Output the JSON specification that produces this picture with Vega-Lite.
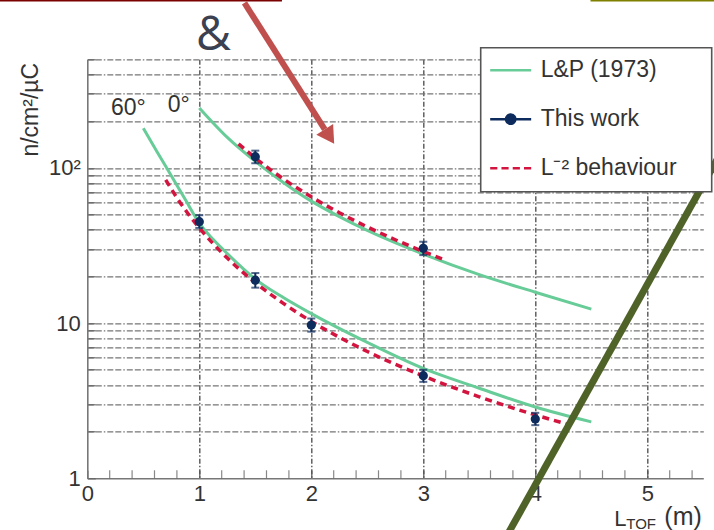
{
  "$schema": "https://vega.github.io/schema/vega-lite/v6.json",
  "width": 616,
  "height": 419,
  "autosize": {"type": "none"},
  "padding": {"left": 87.3, "top": 59.3, "right": 10.7, "bottom": 51.7},
  "background": "white",
  "config": {"view": {"stroke": null}, "font": "Liberation Sans"},
  "datasets": {
    "lp": [
      {"x": 1.0, "y": 243, "angle": "0", "series": "L&P (1973)"},
      {"x": 1.25, "y": 157, "angle": "0", "series": "L&P (1973)"},
      {"x": 1.5, "y": 110, "angle": "0", "series": "L&P (1973)"},
      {"x": 1.75, "y": 80.5, "angle": "0", "series": "L&P (1973)"},
      {"x": 2.0, "y": 61, "angle": "0", "series": "L&P (1973)"},
      {"x": 2.25, "y": 48.5, "angle": "0", "series": "L&P (1973)"},
      {"x": 2.5, "y": 39.5, "angle": "0", "series": "L&P (1973)"},
      {"x": 3.0, "y": 27.8, "angle": "0", "series": "L&P (1973)"},
      {"x": 3.5, "y": 20.5, "angle": "0", "series": "L&P (1973)"},
      {"x": 4.0, "y": 15.8, "angle": "0", "series": "L&P (1973)"},
      {"x": 4.5, "y": 12.3, "angle": "0", "series": "L&P (1973)"},
      {"x": 0.5, "y": 180, "angle": "60", "series": "L&P (1973)"},
      {"x": 0.625, "y": 126, "angle": "60", "series": "L&P (1973)"},
      {"x": 0.75, "y": 89, "angle": "60", "series": "L&P (1973)"},
      {"x": 0.875, "y": 62.5, "angle": "60", "series": "L&P (1973)"},
      {"x": 1.0, "y": 44, "angle": "60", "series": "L&P (1973)"},
      {"x": 1.125, "y": 34.5, "angle": "60", "series": "L&P (1973)"},
      {"x": 1.25, "y": 28, "angle": "60", "series": "L&P (1973)"},
      {"x": 1.5, "y": 19.2, "angle": "60", "series": "L&P (1973)"},
      {"x": 1.75, "y": 14.6, "angle": "60", "series": "L&P (1973)"},
      {"x": 2.0, "y": 11.5, "angle": "60", "series": "L&P (1973)"},
      {"x": 2.5, "y": 7.5, "angle": "60", "series": "L&P (1973)"},
      {"x": 3.0, "y": 5.1, "angle": "60", "series": "L&P (1973)"},
      {"x": 3.5, "y": 3.8, "angle": "60", "series": "L&P (1973)"},
      {"x": 4.0, "y": 2.88, "angle": "60", "series": "L&P (1973)"},
      {"x": 4.5, "y": 2.31, "angle": "60", "series": "L&P (1973)"}
    ],
    "l2": [
      {"x": 1.35, "y": 142.7, "angle": "0", "series": "L⁻² behaviour"},
      {"x": 1.5, "y": 115.6, "angle": "0", "series": "L⁻² behaviour"},
      {"x": 1.75, "y": 84.9, "angle": "0", "series": "L⁻² behaviour"},
      {"x": 2.0, "y": 65.0, "angle": "0", "series": "L⁻² behaviour"},
      {"x": 2.25, "y": 51.4, "angle": "0", "series": "L⁻² behaviour"},
      {"x": 2.5, "y": 41.6, "angle": "0", "series": "L⁻² behaviour"},
      {"x": 2.75, "y": 34.4, "angle": "0", "series": "L⁻² behaviour"},
      {"x": 3.0, "y": 28.9, "angle": "0", "series": "L⁻² behaviour"},
      {"x": 3.2, "y": 25.4, "angle": "0", "series": "L⁻² behaviour"},
      {"x": 0.7, "y": 83.7, "angle": "60", "series": "L⁻² behaviour"},
      {"x": 0.8, "y": 64.1, "angle": "60", "series": "L⁻² behaviour"},
      {"x": 0.9, "y": 50.6, "angle": "60", "series": "L⁻² behaviour"},
      {"x": 1.0, "y": 41.0, "angle": "60", "series": "L⁻² behaviour"},
      {"x": 1.25, "y": 26.2, "angle": "60", "series": "L⁻² behaviour"},
      {"x": 1.5, "y": 18.2, "angle": "60", "series": "L⁻² behaviour"},
      {"x": 1.75, "y": 13.4, "angle": "60", "series": "L⁻² behaviour"},
      {"x": 2.0, "y": 10.25, "angle": "60", "series": "L⁻² behaviour"},
      {"x": 2.5, "y": 6.56, "angle": "60", "series": "L⁻² behaviour"},
      {"x": 3.0, "y": 4.56, "angle": "60", "series": "L⁻² behaviour"},
      {"x": 3.5, "y": 3.35, "angle": "60", "series": "L⁻² behaviour"},
      {"x": 4.0, "y": 2.56, "angle": "60", "series": "L⁻² behaviour"},
      {"x": 4.3, "y": 2.22, "angle": "60", "series": "L⁻² behaviour"}
    ],
    "tw": [
      {"x": 1.5, "y": 118, "lo": 107, "hi": 129, "angle": "0", "series": "This work"},
      {"x": 3.0, "y": 30.3, "lo": 27.4, "hi": 33.4, "angle": "0", "series": "This work"},
      {"x": 1.0, "y": 45, "lo": 41, "hi": 49.5, "angle": "60", "series": "This work"},
      {"x": 1.5, "y": 18.9, "lo": 16.9, "hi": 21, "angle": "60", "series": "This work"},
      {"x": 2.0, "y": 9.7, "lo": 8.8, "hi": 10.7, "angle": "60", "series": "This work"},
      {"x": 3.0, "y": 4.58, "lo": 4.18, "hi": 5.0, "angle": "60", "series": "This work"},
      {"x": 4.0, "y": 2.41, "lo": 2.2, "hi": 2.64, "angle": "60", "series": "This work"}
    ],
    "ann": [
      {"x": 0.367, "y": 219, "t": "60°"},
      {"x": 0.817, "y": 229, "t": "0°"}
    ],
    "minor": [
      {"x": 0.2}, {"x": 0.4}, {"x": 0.6}, {"x": 0.8},
      {"x": 1.2}, {"x": 1.4}, {"x": 1.6}, {"x": 1.8},
      {"x": 2.2}, {"x": 2.4}, {"x": 2.6}, {"x": 2.8},
      {"x": 3.2}, {"x": 3.4}, {"x": 3.6}, {"x": 3.8},
      {"x": 4.2}, {"x": 4.4}, {"x": 4.6}, {"x": 4.8},
      {"x": 5.2}, {"x": 5.4}
    ]
  },
  "layer": [
    {
      "data": {"name": "lp"},
      "mark": {"type": "line", "strokeWidth": 3, "interpolate": "monotone", "clip": true},
      "encoding": {
        "x": {
          "field": "x", "type": "quantitative",
          "scale": {"domain": [0, 5.5], "nice": false, "zero": false},
          "axis": {
            "title": null,
            "values": [0, 1, 2, 3, 4, 5],
            "format": "d",
            "labelFont": "Liberation Sans", "labelFontSize": 22, "labelColor": "#333333",
            "labelOverlap": false, "labelFlush": false, "labelPadding": 13, "labelBaseline": "top",
            "tickSize": -8, "tickColor": "#555555", "tickWidth": 1.2,
            "domainColor": "#777777", "domainWidth": 1.6,
            "grid": true, "gridColor": "#555555", "gridWidth": 1.4, "gridDash": [5, 2, 1.5, 2],
            "gridOpacity": {"condition": {"test": "datum.value > 0.5", "value": 1}, "value": 0}
          }
        },
        "y": {
          "field": "y", "type": "quantitative",
          "scale": {"type": "log", "domain": [1, 500], "nice": false},
          "axis": {
            "title": "n/cm²/µC",
            "titleFont": "Liberation Sans", "titleFontSize": 23, "titleFontWeight": "normal", "titleColor": "#333333",
            "titleAngle": 270, "titleX": -50, "titleY": 3, "titleAlign": "right", "titleBaseline": "alphabetic",
            "values": [1, 2, 3, 4, 5, 6, 7, 8, 9, 10, 20, 30, 40, 50, 60, 70, 80, 90, 100, 200, 300, 400, 500],
            "labelExpr": "datum.value == 100 ? '10²' : datum.value == 10 ? '10' : datum.value == 1 ? '1' : ''",
            "labelFont": "Liberation Sans", "labelFontSize": 22, "labelColor": "#333333",
            "labelOverlap": false, "labelFlush": false, "labelPadding": 15,
            "tickSize": -8, "tickColor": "#666666", "tickWidth": 1.2,
            "domainColor": "#777777", "domainWidth": 1.6,
            "grid": true, "gridColor": "#767676", "gridWidth": 1.3, "gridDash": [6, 2, 6, 2, 1.5, 2],
            "gridOpacity": {"condition": {"test": "datum.value > 1.5", "value": 1}, "value": 0}
          }
        },
        "detail": {"field": "angle"},
        "color": {
          "field": "series", "type": "nominal",
          "scale": {"domain": ["L&P (1973)", "This work", "L⁻² behaviour"], "range": ["#68CC98", "#0D2B5C", "#D3143F"]},
          "legend": {
            "orient": "none", "legendX": 393.4, "legendY": -11.6,
            "title": "ab", "titleOrient": "right", "titleFontSize": 10, "titlePadding": 12, "titleOpacity": 0,
            "fillColor": "#ffffff", "strokeColor": "#555555", "padding": 11,
            "symbolSize": 420, "rowPadding": 25, "labelOffset": 26,
            "labelFontSize": 23, "labelFont": "Liberation Sans", "labelColor": "#333333",
            "labelLimit": 400,
            "encode": {
              "legend": {"update": {"strokeWidth": {"value": 1.6}}},
              "symbols": {"update": {
                "shape": {"signal": "datum.value === 'This work' ? 'M-1.27,0H2.73M1.18,0A0.45,0.45,0,1,1,0.28,0A0.45,0.45,0,1,1,1.18,0Z' : datum.value === 'L&P (1973)' ? 'M-1.27,0H2.73' : 'M-1.27,0H-0.57M-0.17,0H0.53M0.93,0H1.63M2.03,0H2.73'"},
                "stroke": {"signal": "datum.value === 'L&P (1973)' ? '#68CC98' : datum.value === 'This work' ? '#23477E' : '#DC4A70'"},
                "fill": {"signal": "datum.value === 'This work' ? '#0D2B5C' : 'transparent'"},
                "strokeWidth": {"value": 2.5},
                "strokeDash": {"value": [1, 0]},
                "opacity": {"value": 1},
                "strokeOpacity": {"value": 1},
                "fillOpacity": {"value": 1}
              }}
            }
          }
        }
      }
    },
    {
      "data": {"name": "minor"},
      "mark": {"type": "tick", "orient": "vertical", "size": 8, "thickness": 1.2, "color": "#555555", "yOffset": -4},
      "encoding": {
        "x": {"field": "x", "type": "quantitative", "scale": {"domain": [0, 5.5], "nice": false, "zero": false}},
        "y": {"datum": 1, "type": "quantitative", "scale": {"type": "log", "domain": [1, 500], "nice": false}}
      }
    },
    {
      "data": {"name": "l2"},
      "mark": {"type": "line", "strokeWidth": 3.5, "strokeDash": [7, 5], "interpolate": "monotone"},
      "encoding": {
        "x": {"field": "x", "type": "quantitative", "scale": {"domain": [0, 5.5], "nice": false, "zero": false}},
        "y": {"field": "y", "type": "quantitative", "scale": {"type": "log", "domain": [1, 500], "nice": false}},
        "detail": {"field": "angle"},
        "color": {"field": "series", "type": "nominal", "scale": {"domain": ["L&P (1973)", "This work", "L⁻² behaviour"], "range": ["#68CC98", "#0D2B5C", "#D3143F"]}}
      }
    },
    {
      "data": {"name": "tw"},
      "mark": {"type": "rule", "strokeWidth": 2},
      "encoding": {
        "x": {"field": "x", "type": "quantitative", "scale": {"domain": [0, 5.5], "nice": false, "zero": false}},
        "y": {"field": "lo", "type": "quantitative", "scale": {"type": "log", "domain": [1, 500], "nice": false}},
        "y2": {"field": "hi"},
        "color": {"field": "series", "type": "nominal", "scale": {"domain": ["L&P (1973)", "This work", "L⁻² behaviour"], "range": ["#68CC98", "#0D2B5C", "#D3143F"]}}
      }
    },
    {
      "data": {"name": "tw"},
      "mark": {"type": "tick", "orient": "horizontal", "size": 8, "thickness": 2},
      "encoding": {
        "x": {"field": "x", "type": "quantitative", "scale": {"domain": [0, 5.5], "nice": false, "zero": false}},
        "y": {"field": "lo", "type": "quantitative", "scale": {"type": "log", "domain": [1, 500], "nice": false}},
        "color": {"field": "series", "type": "nominal", "scale": {"domain": ["L&P (1973)", "This work", "L⁻² behaviour"], "range": ["#68CC98", "#0D2B5C", "#D3143F"]}}
      }
    },
    {
      "data": {"name": "tw"},
      "mark": {"type": "tick", "orient": "horizontal", "size": 8, "thickness": 2},
      "encoding": {
        "x": {"field": "x", "type": "quantitative", "scale": {"domain": [0, 5.5], "nice": false, "zero": false}},
        "y": {"field": "hi", "type": "quantitative", "scale": {"type": "log", "domain": [1, 500], "nice": false}},
        "color": {"field": "series", "type": "nominal", "scale": {"domain": ["L&P (1973)", "This work", "L⁻² behaviour"], "range": ["#68CC98", "#0D2B5C", "#D3143F"]}}
      }
    },
    {
      "data": {"name": "tw"},
      "mark": {"type": "point", "filled": true, "size": 85, "opacity": 1},
      "encoding": {
        "x": {"field": "x", "type": "quantitative", "scale": {"domain": [0, 5.5], "nice": false, "zero": false}},
        "y": {"field": "y", "type": "quantitative", "scale": {"type": "log", "domain": [1, 500], "nice": false}},
        "color": {"field": "series", "type": "nominal", "scale": {"domain": ["L&P (1973)", "This work", "L⁻² behaviour"], "range": ["#68CC98", "#0D2B5C", "#D3143F"]}}
      }
    },
    {
      "data": {"name": "ann"},
      "mark": {"type": "text", "font": "Liberation Sans", "fontSize": 23, "color": "#333333", "align": "center", "baseline": "alphabetic"},
      "encoding": {
        "x": {"field": "x", "type": "quantitative", "scale": {"domain": [0, 5.5], "nice": false, "zero": false}},
        "y": {"field": "y", "type": "quantitative", "scale": {"type": "log", "domain": [1, 500], "nice": false}},
        "text": {"field": "t"}
      }
    },
    {
      "data": {"values": [{}]},
      "mark": {"type": "text", "font": "Liberation Sans", "fontSize": 22, "color": "#333333", "align": "left", "baseline": "alphabetic", "dx": -89, "dy": 47.5},
      "encoding": {
        "x": {"datum": 5.5, "type": "quantitative", "scale": {"domain": [0, 5.5], "nice": false, "zero": false}},
        "y": {"datum": 1, "type": "quantitative", "scale": {"type": "log", "domain": [1, 500], "nice": false}},
        "text": {"value": "L"}
      }
    },
    {
      "data": {"values": [{}]},
      "mark": {"type": "text", "font": "Liberation Sans", "fontSize": 15, "color": "#333333", "align": "left", "baseline": "alphabetic", "dx": -77, "dy": 51},
      "encoding": {
        "x": {"datum": 5.5, "type": "quantitative", "scale": {"domain": [0, 5.5], "nice": false, "zero": false}},
        "y": {"datum": 1, "type": "quantitative", "scale": {"type": "log", "domain": [1, 500], "nice": false}},
        "text": {"value": "TOF"}
      }
    },
    {
      "data": {"values": [{}]},
      "mark": {"type": "text", "font": "Liberation Sans", "fontSize": 25, "color": "#333333", "align": "right", "baseline": "alphabetic", "dx": -1.5, "dy": 47},
      "encoding": {
        "x": {"datum": 5.5, "type": "quantitative", "scale": {"domain": [0, 5.5], "nice": false, "zero": false}},
        "y": {"datum": 1, "type": "quantitative", "scale": {"type": "log", "domain": [1, 500], "nice": false}},
        "text": {"value": "(m)"}
      }
    },
    {
      "data": {"values": [{"x": -0.8, "y": 1208, "x2": 1.738, "y2": 1208}]},
      "mark": {"type": "rule", "color": "#7B0000", "strokeWidth": 3.5, "clip": false},
      "encoding": {
        "x": {"field": "x", "type": "quantitative", "scale": {"domain": [0, 5.5], "nice": false, "zero": false}},
        "y": {"field": "y", "type": "quantitative", "scale": {"type": "log", "domain": [1, 500], "nice": false}},
        "x2": {"field": "x2"},
        "y2": {"field": "y2"}
      }
    },
    {
      "data": {"values": [{"x": 4.493, "y": 1208, "x2": 5.7, "y2": 1208}]},
      "mark": {"type": "rule", "color": "#7F7F00", "strokeWidth": 3.5, "clip": false},
      "encoding": {
        "x": {"field": "x", "type": "quantitative", "scale": {"domain": [0, 5.5], "nice": false, "zero": false}},
        "y": {"field": "y", "type": "quantitative", "scale": {"type": "log", "domain": [1, 500], "nice": false}},
        "x2": {"field": "x2"},
        "y2": {"field": "y2"}
      }
    },
    {
      "data": {"values": [{"x": 1.403, "y": 1155, "x2": 2.12, "y2": 177}]},
      "mark": {"type": "rule", "color": "#C0504D", "strokeWidth": 6, "strokeCap": "butt", "clip": false},
      "encoding": {
        "x": {"field": "x", "type": "quantitative", "scale": {"domain": [0, 5.5], "nice": false, "zero": false}},
        "y": {"field": "y", "type": "quantitative", "scale": {"type": "log", "domain": [1, 500], "nice": false}},
        "x2": {"field": "x2"},
        "y2": {"field": "y2"}
      }
    },
    {
      "data": {"values": [{"x": 2.162, "y": 158.9}]},
      "mark": {"type": "point", "shape": "triangle-down", "filled": true, "size": 400, "angle": 327, "color": "#C0504D", "opacity": 1, "clip": false},
      "encoding": {
        "x": {"field": "x", "type": "quantitative", "scale": {"domain": [0, 5.5], "nice": false, "zero": false}},
        "y": {"field": "y", "type": "quantitative", "scale": {"type": "log", "domain": [1, 500], "nice": false}}
      }
    },
    {
      "data": {"values": [{"x": 1.127, "y": 575, "t": "&"}]},
      "mark": {"type": "text", "font": "Open Sans", "fontSize": 48, "color": "#3B4150", "align": "center", "baseline": "alphabetic", "clip": false},
      "encoding": {
        "x": {"field": "x", "type": "quantitative", "scale": {"domain": [0, 5.5], "nice": false, "zero": false}},
        "y": {"field": "y", "type": "quantitative", "scale": {"type": "log", "domain": [1, 500], "nice": false}},
        "text": {"field": "t"}
      }
    },
    {
      "data": {"values": [{"x": 5.671, "y": 130.4, "x2": 3.725, "y2": 0.4004}]},
      "mark": {"type": "rule", "color": "#4F6228", "strokeWidth": 7, "strokeCap": "butt", "clip": false},
      "encoding": {
        "x": {"field": "x", "type": "quantitative", "scale": {"domain": [0, 5.5], "nice": false, "zero": false}},
        "y": {"field": "y", "type": "quantitative", "scale": {"type": "log", "domain": [1, 500], "nice": false}},
        "x2": {"field": "x2"},
        "y2": {"field": "y2"}
      }
    }
  ]
}
